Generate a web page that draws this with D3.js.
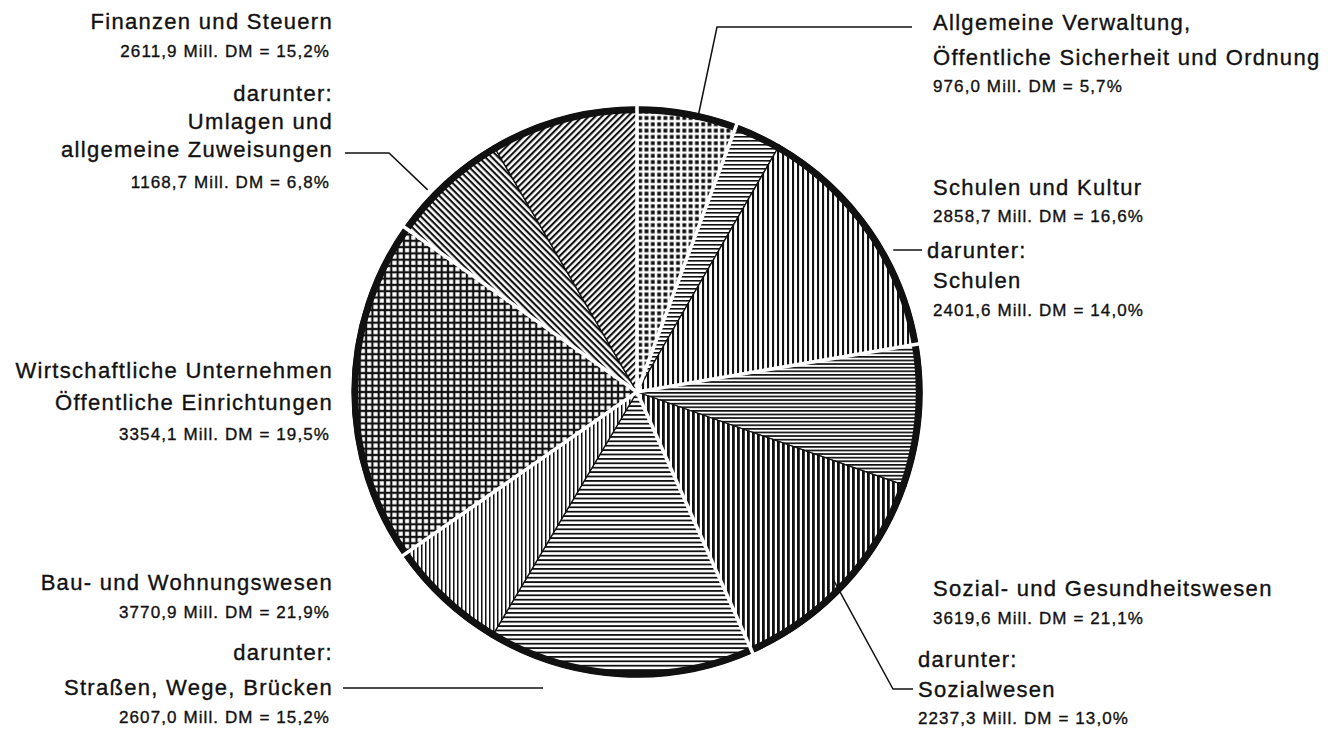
<!DOCTYPE html>
<html>

<head>
  <meta charset="utf-8">
  <title>Ausgaben nach Aufgabenbereichen</title>
  <style>
    body { margin: 0; background: #fff; }
    text { font-family: "Liberation Sans", Arial, Helvetica, sans-serif; fill: #111; stroke: #111; stroke-width: 0.35; }
  </style>
</head>

<body>
  <svg width="1341" height="731"></svg>
  <script src="https://d3js.org/d3.v7.min.js"></script>
  <script>
    // 1. Daten
    var categories = ["Allgemeine Verwaltung", "Schulen und Kultur", "Sozial- und Gesundheitswesen",
      "Bau- und Wohnungswesen", "Wirtschaftliche Unternehmen", "Finanzen und Steuern"];
    var labelLines = [
      ["Allgemeine Verwaltung,", "Öffentliche Sicherheit und Ordnung"],
      ["Schulen und Kultur"],
      ["Sozial- und Gesundheitswesen"],
      ["Bau- und Wohnungswesen"],
      ["Wirtschaftliche Unternehmen", "Öffentliche Einrichtungen"],
      ["Finanzen und Steuern"]
    ];
    var totals = [976.0, 2858.7, 3619.6, 3770.9, 3354.1, 2611.9];
    var percents = [5.7, 16.6, 21.1, 21.9, 19.5, 15.2];
    var subLines = [null, ["Schulen"], ["Sozialwesen"], ["Straßen, Wege, Brücken"], null,
      ["Umlagen und", "allgemeine Zuweisungen"]];
    var subValues = [null, 2401.6, 2237.3, 2607.0, null, 1168.7];
    var subPercents = [null, 14.0, 13.0, 15.2, null, 6.8];
    // liegt der "darunter"-Teil im Uhrzeigersinn vor dem Rest?
    var subFirst = [false, false, false, true, false, true];

    var de = d3.formatLocale({ decimal: ",", thousands: ".", grouping: [3], currency: ["", " DM"] });
    var fmt = de.format(".1f");

    // Teilstücke in Zeichenreihenfolge
    var pieces = [];
    categories.forEach(function (c, i) {
      if (subValues[i] == null) {
        pieces.push({ cat: i, value: totals[i] });
      } else {
        var sub = { cat: i, value: subValues[i], sub: true };
        var rest = { cat: i, value: totals[i] - subValues[i] };
        if (subFirst[i]) pieces.push(sub, rest); else pieces.push(rest, sub);
      }
    });
    // Muster je Teilstück
    var fills = ["dots", "h-thin", "v-mid", "h-dense", "v-heavy", "h-mid", "v-thin", "grid", "diag-b", "diag-f"];

    var svg = d3.select("svg");
    var cx = 637, cy = 392, r = 285;

    // 2. Muster
    var defs = svg.append("defs");
    function hPattern(id, step, w, rot) {
      var p = defs.append("pattern").attr("id", id).attr("patternUnits", "userSpaceOnUse")
        .attr("width", step).attr("height", step);
      if (rot) p.attr("patternTransform", "rotate(" + rot + ")");
      p.append("rect").attr("width", step).attr("height", step).attr("fill", "#fff");
      p.append("rect").attr("y", 0).attr("width", step).attr("height", w).attr("fill", "#111");
    }
    function vPattern(id, step, w) {
      var p = defs.append("pattern").attr("id", id).attr("patternUnits", "userSpaceOnUse")
        .attr("width", step).attr("height", step);
      p.append("rect").attr("width", step).attr("height", step).attr("fill", "#fff");
      p.append("rect").attr("x", 0).attr("width", w).attr("height", step).attr("fill", "#111");
    }
    hPattern("h-thin", 4, 1.6);
    hPattern("h-dense", 3.6, 1.7);
    hPattern("h-mid", 4.4, 1.8);
    vPattern("v-mid", 5, 2.1);
    vPattern("v-heavy", 5, 2.8);
    vPattern("v-thin", 4, 1.5);
    hPattern("diag-b", 4.6, 2.1, 45);
    hPattern("diag-f", 4.6, 2.1, -45);

    var dots = defs.append("pattern").attr("id", "dots").attr("patternUnits", "userSpaceOnUse")
      .attr("width", 6.3).attr("height", 6.3);
    dots.append("rect").attr("width", 6.3).attr("height", 6.3).attr("fill", "#fff");
    dots.append("rect").attr("x", 1.3).attr("y", 1.3).attr("width", 3.8).attr("height", 3.8).attr("fill", "#111");

    var grid = defs.append("pattern").attr("id", "grid").attr("patternUnits", "userSpaceOnUse")
      .attr("width", 6.3).attr("height", 6.3);
    grid.append("rect").attr("width", 6.3).attr("height", 6.3).attr("fill", "#111");
    grid.append("rect").attr("x", 1.1).attr("y", 1.1).attr("width", 4.1).attr("height", 4.1).attr("fill", "#fff");

    // 3. Kreis
    var pie = d3.pie().sort(null).value(function (d) { return d.value; });
    var arcs = pie(pieces);
    var arc = d3.arc().innerRadius(0).outerRadius(r);

    var g = svg.append("g").attr("transform", "translate(" + cx + "," + cy + ")");
    g.selectAll("path.piece")
      .data(arcs)
      .enter()
      .append("path")
      .attr("class", "piece")
      .attr("d", arc)
      .attr("fill", function (d, i) { return "url(#" + fills[i] + ")"; })
      .attr("stroke", "#111")
      .attr("stroke-width", 1.3);

    // dicker Rand
    g.append("circle").attr("r", r - 3).attr("fill", "none")
      .attr("stroke", "#111").attr("stroke-width", 6.5);

    // weiße Trennlinien zwischen den Hauptbereichen
    var catArcs = pie(totals.map(function (v) { return { value: v }; }));
    g.selectAll("line.sep")
      .data(catArcs)
      .enter()
      .append("line")
      .attr("x1", 0).attr("y1", 0)
      .attr("x2", function (d) { return (r + 6) * Math.sin(d.startAngle); })
      .attr("y2", function (d) { return -(r + 6) * Math.cos(d.startAngle); })
      .attr("stroke", "#fff")
      .attr("stroke-width", 3.6);

    // 4. Hinweislinien
    function polar(deg, rad) {
      var a = deg * Math.PI / 180;
      return [cx + rad * Math.sin(a), cy - rad * Math.cos(a)];
    }
    var leaders = [
      [polar(12.5, r), [717, 27], [912, 27]],
      [polar(61, r + 8), [922, 250]],
      [polar(133.6, r - 15), [893, 689], [913, 689]],
      [[343, 688], [543, 688]],
      [[345, 153], [389, 153], polar(314, r + 6)]
    ];
    svg.selectAll("path.leader")
      .data(leaders)
      .enter()
      .append("path")
      .attr("d", d3.line())
      .attr("fill", "none")
      .attr("stroke", "#111")
      .attr("stroke-width", 1.5);

    // 5. Beschriftung
    function valueText(v, p) {
      return fmt(v) + " Mill. DM = " + fmt(p) + "%";
    }
    var BIG = 22, SMALL = 17;
    // [Kategorie, Anker, x, Grundlinien der Zeilen, x für den Unterteil]
    var blocks = [
      [0, "start", 933, [30, 65, 92]],
      [1, "start", 933, [195, 222, 258, 288, 316], [927, 933, 933]],
      [2, "start", 933, [596, 624, 667, 697, 724], [918, 918, 918]],
      [3, "end", 333, [590, 618, 660, 695, 723], [333, 333, 330]],
      [4, "end", 333, [378, 410, 440]],
      [5, "end", 333, [29, 57, 101, 129, 157, 188], [333, 333, 333, 330]]
    ];
    blocks.forEach(function (b) {
      var i = b[0], anchor = b[1], x = b[2], ys = b[3];
      var rows = [];
      labelLines[i].forEach(function (t) { rows.push({ t: t, s: BIG, x: x }); });
      rows.push({ t: valueText(totals[i], percents[i]), s: SMALL, x: anchor == "end" ? x - 3 : x });
      if (subLines[i]) {
        var sx = b[4];
        rows.push({ t: "darunter:", s: BIG, x: sx[0] });
        subLines[i].forEach(function (t, j) { rows.push({ t: t, s: BIG, x: sx[Math.min(j + 1, sx.length - 2)] }); });
        rows.push({ t: valueText(subValues[i], subPercents[i]), s: SMALL, x: sx[sx.length - 1] });
      }
      rows.forEach(function (row, j) {
        svg.append("text")
          .attr("x", row.x)
          .attr("y", ys[j])
          .attr("text-anchor", anchor)
          .attr("font-size", row.s)
          .attr("letter-spacing", row.s == BIG ? 1.3 : 1.1)
          .text(row.t);
      });
    });
  </script>
</body>

</html>
